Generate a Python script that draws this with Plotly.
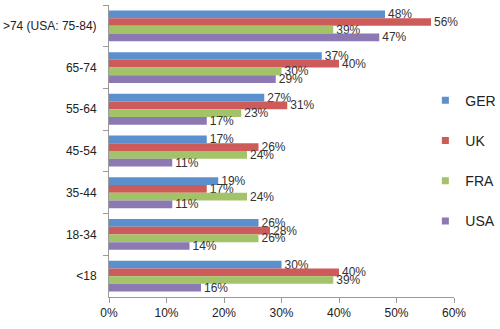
import plotly.graph_objects as go

# Age groups, listed top to bottom
age_groups = [">74 (USA: 75-84)", "65-74", "55-64", "45-54", "35-44", "18-34", "<18"]

# Share per country and age group (percent)
ger = [48, 37, 27, 17, 19, 26, 30]
uk = [56, 40, 31, 26, 17, 28, 40]
fra = [39, 30, 23, 24, 24, 26, 39]
usa = [47, 29, 17, 11, 11, 14, 16]

x_ticks = [0, 10, 20, 30, 40, 50, 60]
x_tick_labels = ["0%", "10%", "20%", "30%", "40%", "50%", "60%"]

series = [
    ("GER", ger, "#5B8FCE"),
    ("UK", uk, "#CD5B59"),
    ("FRA", fra, "#A3C368"),
    ("USA", usa, "#8C78B2"),
]

fig = go.Figure()
for name, vals, color in series:
    fig.add_trace(go.Bar(
        y=age_groups,
        x=vals,
        name=name,
        orientation="h",
        marker=dict(color=color, line=dict(width=0)),
        text=[f"{v}%" for v in vals],
        textposition="outside",
        textfont=dict(size=12, color="#333333"),
        cliponaxis=False,
        constraintext="none",
        showlegend=False,
    ))

# Legend entries with small square swatches
for name, vals, color in series:
    fig.add_trace(go.Scatter(
        x=[None], y=[None],
        mode="markers",
        name=name,
        legendgroup=name,
        marker=dict(symbol="square", size=7, color=color),
        showlegend=True,
    ))

fig.update_layout(
    width=500,
    height=329,
    margin=dict(l=109, r=46, t=5, b=32, autoexpand=False),
    paper_bgcolor="white",
    plot_bgcolor="white",
    barmode="group",
    bargap=0.26,
    bargroupgap=0,
    font=dict(family="Liberation Sans, Arial, sans-serif", size=12, color="#222222"),
    legend=dict(
        x=0.917, y=0.727, xanchor="left", yanchor="top",
        traceorder="grouped",
        tracegroupgap=19,
        font=dict(size=14, color="#222222"),
        itemwidth=30,
        bgcolor="rgba(0,0,0,0)",
    ),
    showlegend=True,
)

fig.update_xaxes(
    range=[0, 60],
    tickvals=x_ticks,
    ticktext=x_tick_labels,
    showgrid=False,
    zeroline=False,
    showline=True,
    linecolor="#9a9a9a",
    linewidth=1,
    ticks="outside",
    ticklen=5,
    tickcolor="#9a9a9a",
    tickfont=dict(size=12),
    automargin=False,
)
fig.update_yaxes(
    categoryorder="array",
    categoryarray=age_groups,
    autorange="reversed",
    showgrid=False,
    showline=True,
    linecolor="#9a9a9a",
    linewidth=1,
    ticks="outside",
    ticklen=5,
    tickcolor="#9a9a9a",
    tickson="boundaries",
    ticklabelstandoff=9,
    tickfont=dict(size=12),
    automargin=False,
)

fig.write_html("out.html")
